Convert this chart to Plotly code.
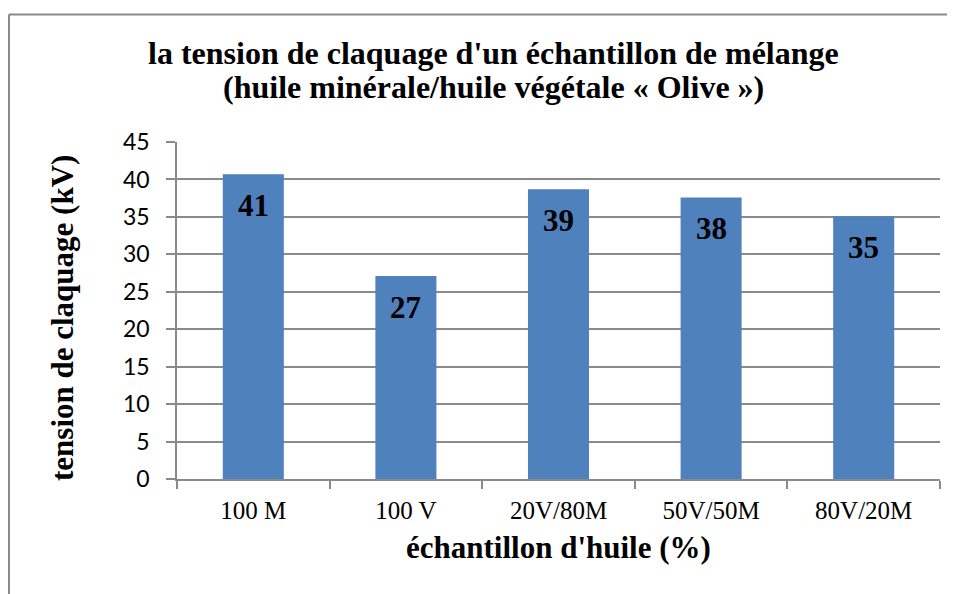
import plotly.graph_objects as go

categories = ["100 M", "100 V", "20V/80M", "50V/50M", "80V/20M"]
values = [40.7, 27.1, 38.7, 37.6, 35.1]
labels = ["41", "27", "39", "38", "35"]
y_ticks = [0, 5, 10, 15, 20, 25, 30, 35, 40, 45]

# page offset (browser body margin)
OFF = 8
W, H = 955 - OFF, 594 - OFF
PL, PR, PT, PB = 177, 940, 142, 479  # plot area in page pixels
L, T = PL - OFF, PT - OFF
R, B = W - (PR - OFF), H - (PB - OFF)
pw, ph = W - L - R, H - T - B


def px(x):
    return (x - OFF - L) / pw


def py(y):
    return (H - B - (y - OFF)) / ph


fig = go.Figure()
fig.add_trace(go.Bar(
    x=categories, y=values,
    marker=dict(color="#4F81BD", line=dict(width=0)),
    width=0.4,
    hoverinfo="skip",
))

serif = "Liberation Serif, Times New Roman, serif"

for c, v, t in zip(categories, values, labels):
    fig.add_annotation(x=c, y=v, text=f"<b>{t}</b>", showarrow=False,
                       yanchor="top", yshift=-12,
                       font=dict(family=serif, size=31, color="black"))

# axis titles
fig.add_annotation(xref="paper", yref="paper", x=px(558), y=py(547),
                   xanchor="center", yanchor="middle",
                   text="<b>échantillon d'huile (%)</b>", showarrow=False,
                   font=dict(family=serif, size=31, color="black"))
fig.add_annotation(xref="paper", yref="paper", x=px(62), y=py(318),
                   xanchor="center", yanchor="middle",
                   text="<b>tension de claquage (kV)</b>", showarrow=False, textangle=-90,
                   font=dict(family=serif, size=31, color="black"))

# title (two lines)
fig.add_annotation(xref="paper", yref="paper", x=px(493), y=py(53),
                   xanchor="center", yanchor="middle",
                   text="<b>la tension de claquage d'un échantillon de mélange</b>",
                   showarrow=False,
                   font=dict(family=serif, size=32, color="black"))
fig.add_annotation(xref="paper", yref="paper", x=px(493), y=py(87),
                   xanchor="center", yanchor="middle",
                   text="<b>(huile minérale/huile végétale « Olive »)</b>",
                   showarrow=False,
                   font=dict(family=serif, size=32, color="black"))

# outer border (top and left)
fig.add_shape(type="line", xref="paper", yref="paper",
              x0=px(9), x1=px(W + 40), y0=py(14.5), y1=py(14.5),
              line=dict(color="#8a8a8a", width=2))
fig.add_shape(type="line", xref="paper", yref="paper",
              x0=px(9), x1=px(9), y0=py(14.5), y1=py(H + 40),
              line=dict(color="#8a8a8a", width=2))

fig.update_layout(
    width=W, height=H,
    margin=dict(l=L, r=R, t=T, b=B, autoexpand=False),
    plot_bgcolor="white", paper_bgcolor="white",
    showlegend=False,
)
fig.update_xaxes(
    type="category",
    showline=True, linecolor="#8a8a8a", linewidth=1.5,
    ticks="outside", tickson="boundaries", ticklen=8, tickcolor="#8a8a8a", tickwidth=1.5,
    showgrid=False,
    tickfont=dict(family=serif, size=25, color="black"),
    ticklabelstandoff=8,
)
fig.update_yaxes(
    range=[0, 45], tickvals=y_ticks,
    showline=True, linecolor="#8a8a8a", linewidth=1.5,
    ticks="outside", ticklen=9, tickcolor="#8a8a8a", tickwidth=1.5,
    showgrid=True, gridcolor="#8a8a8a", gridwidth=1.5,
    zeroline=False,
    tickfont=dict(family="Lato, Open Sans, sans-serif", size=23, color="black"),
    ticklabelstandoff=12,
)

fig.write_html("out.html", config={"displayModeBar": False})
